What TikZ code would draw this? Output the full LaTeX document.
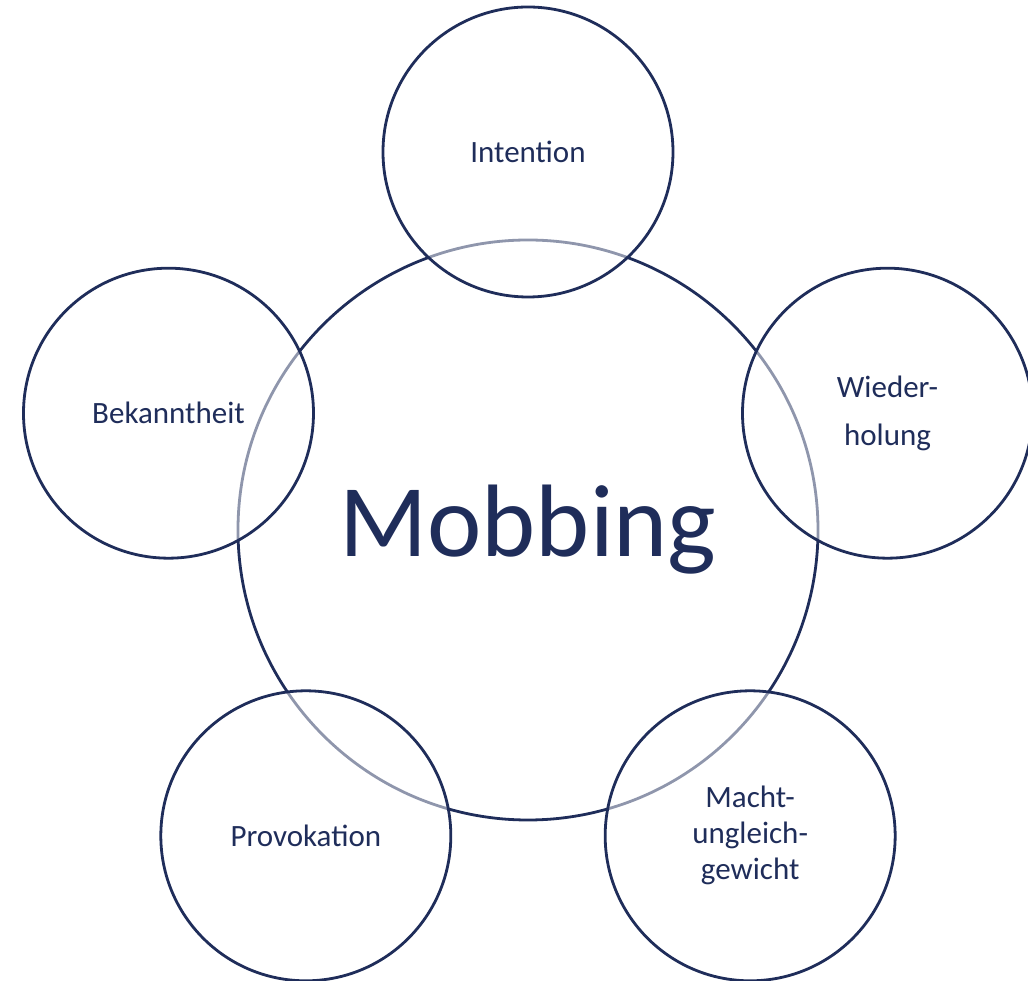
\documentclass[tikz,border=0pt]{standalone}
\usepackage{fontspec}
\setmainfont{Carlito}
\definecolor{navy}{RGB}{31,45,90}
\tikzset{
  core/.style={circle, draw=navy, line width=2.8pt, minimum size=580pt, inner sep=0pt,
    text=navy, font=\fontsize{103}{110}\selectfont},
  part/.style={circle, draw=navy, line width=2.8pt, minimum size=290pt, inner sep=0pt,
    fill=white, fill opacity=0.5, text opacity=1, text=navy, align=center}
}
\begin{document}
\begin{tikzpicture}[x=1pt, y=1pt]
      \useasboundingbox (-528,-451) rectangle (500,530);
      \node[core] (mob) at (0,0) {Mobbing};
      \draw
        (90:378) node[part, font=\fontsize{31}{36}\selectfont] (int){Intention}
        (18:378) node[part, font=\fontsize{31}{48}\selectfont] (wdh){Wieder-\\holung}
        (162:378) node[part, font=\fontsize{31}{36}\selectfont] (bek){Bekanntheit}
        (234:378) node[part, font=\fontsize{31}{36}\selectfont] (pro){Provokation}
        (306:378) node[part, font=\fontsize{31}{36}\selectfont] (mac){Macht-\\ungleich-\\gewicht};
    \end{tikzpicture}
\end{document}
